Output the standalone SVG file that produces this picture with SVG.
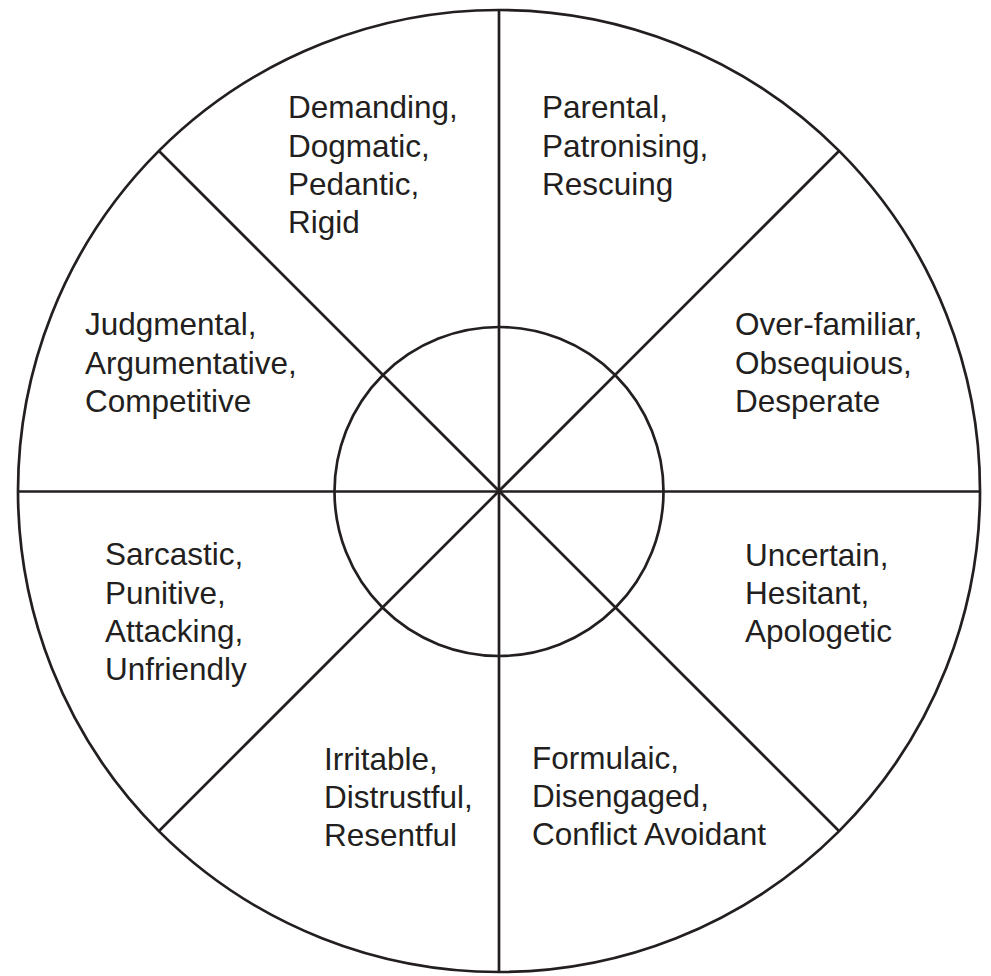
<svg xmlns="http://www.w3.org/2000/svg" width="991" height="976" viewBox="0 0 991 976">
<style>
.ln{stroke:#231f20;stroke-width:2.7;fill:none}
.t{font-family:"Liberation Sans",Arial,sans-serif;font-size:31.5px;fill:#231f20}
</style>
<rect width="991" height="976" fill="#fff"/>
<g id="connectors">
<line class="ln" x1="499" y1="10" x2="499" y2="972"/>
<line class="ln" x1="18" y1="491.5" x2="980" y2="491.5"/>
<line class="ln" x1="159" y1="151" x2="839" y2="831"/>
<line class="ln" x1="839" y1="151" x2="159" y2="831"/>
</g>
<g id="outer"><circle class="ln" cx="499" cy="491" r="481"/></g>
<g id="inner"><circle class="ln" cx="499" cy="491.5" r="164.5"/></g>
<g id="n1"><text class="t" x="288" y="118">Demanding,<tspan x="288" y="156.5">Dogmatic,</tspan><tspan x="288" y="195">Pedantic,</tspan><tspan x="288" y="233">Rigid</tspan></text></g>
<g id="n2"><text class="t" x="542" y="118">Parental,<tspan x="542" y="156.5">Patronising,</tspan><tspan x="542" y="195">Rescuing</tspan></text></g>
<g id="n3"><text class="t" x="85" y="335">Judgmental,<tspan x="85" y="373.5">Argumentative,</tspan><tspan x="85" y="412">Competitive</tspan></text></g>
<g id="n4"><text class="t" x="735" y="335">Over-familiar,<tspan x="735" y="373.5">Obsequious,</tspan><tspan x="735" y="412">Desperate</tspan></text></g>
<g id="n5"><text class="t" x="105" y="565">Sarcastic,<tspan x="105" y="603.5">Punitive,</tspan><tspan x="105" y="642">Attacking,</tspan><tspan x="105" y="680">Unfriendly</tspan></text></g>
<g id="n6"><text class="t" x="745" y="566">Uncertain,<tspan x="745" y="604">Hesitant,</tspan><tspan x="745" y="642">Apologetic</tspan></text></g>
<g id="n7"><text class="t" x="324" y="770">Irritable,<tspan x="324" y="808">Distrustful,</tspan><tspan x="324" y="846">Resentful</tspan></text></g>
<g id="n8"><text class="t" x="532" y="769">Formulaic,<tspan x="532" y="807">Disengaged,</tspan><tspan x="532" y="845">Conflict Avoidant</tspan></text></g>
</svg>
